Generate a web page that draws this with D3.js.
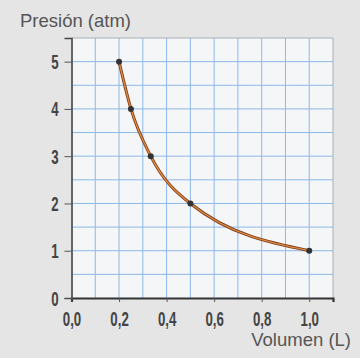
<!DOCTYPE html>
<html><head><meta charset="utf-8">
<script src="https://cdn.jsdelivr.net/npm/d3@7"></script>
<style>
html,body{margin:0;padding:0;background:#e4e4e4;}
svg{display:block;}
</style></head>
<body>
<svg id="c" width="360" height="358"></svg>
<script>
const volumes = [0.2, 0.25, 1/3, 0.5, 1.0];
const pressures = [5, 4, 3, 2, 1];
const xTicks = [0, 0.2, 0.4, 0.6, 0.8, 1.0];
const xTickLabels = ["0,0", "0,2", "0,4", "0,6", "0,8", "1,0"];
const yTicks = [0, 1, 2, 3, 4, 5];
const yTickLabels = ["0", "1", "2", "3", "4", "5"];
const xTitle = "Volumen (L)";
const yTitle = "Presión (atm)";

const svg = d3.select("#c");
const pL = 71.5, pR = 333, pT = 38, pB = 298;
const x = d3.scaleLinear().domain([0, 1.1]).range([pL, pR]);
const y = d3.scaleLinear().domain([0, 5.5]).range([pB, pT]);

svg.append("rect").attr("width", 360).attr("height", 358).attr("fill", "#e5e5e5");
svg.append("rect").attr("x", pL).attr("y", pT).attr("width", pR - pL).attr("height", pB - pT).attr("fill", "#f5f6f8");

const g = svg.append("g");
const xGrid = d3.range(1, 12).map(i => i * 0.1);
const yGrid = d3.range(1, 12).map(i => i * 0.5);
g.selectAll(".vx").data(xGrid).enter().append("line")
  .attr("x1", d => x(d)).attr("x2", d => x(d)).attr("y1", pT).attr("y2", pB)
  .attr("stroke", (d, i) => i === xGrid.length - 1 ? "#a9aeb6" : "#8db8e6").attr("stroke-width", 1);
g.selectAll(".hy").data(yGrid).enter().append("line")
  .attr("y1", d => y(d)).attr("y2", d => y(d)).attr("x1", pL).attr("x2", pR)
  .attr("stroke", (d, i) => i === yGrid.length - 1 ? "#a9aeb6" : "#8db8e6").attr("stroke-width", 1);

const tickFont = "'Liberation Sans',Arial,sans-serif";
const sx = 0.68;

const xAxis = d3.axisBottom(x).tickValues(xTicks).tickFormat((d, i) => xTickLabels[i]).tickSize(4).tickPadding(6);
const gx = svg.append("g").attr("transform", `translate(0,${pB})`).call(xAxis);
gx.select(".domain").attr("stroke", "#333").attr("stroke-width", 2.2);
gx.selectAll(".tick line").attr("stroke", "#555");
gx.selectAll("text").attr("font-family", tickFont).attr("font-size", 19.5).attr("font-weight", "bold")
  .attr("fill", "#444").attr("y", 28).attr("dy", null).attr("transform", `scale(${sx},1)`);

const yAxis = d3.axisLeft(y).tickValues(yTicks).tickFormat((d, i) => yTickLabels[i]).tickSize(7).tickPadding(4);
const gy = svg.append("g").attr("transform", `translate(${pL},0)`).call(yAxis);
gy.select(".domain").attr("stroke", "#444").attr("stroke-width", 1.6);
gy.selectAll(".tick line").attr("stroke", "#555");
gy.selectAll("text").attr("font-family", tickFont).attr("font-size", 19.5).attr("font-weight", "bold")
  .attr("fill", "#444").attr("x", -13 / sx).attr("dy", "0.36em").attr("transform", `scale(${sx},1)`);

const pts = volumes.map((v, i) => [v, pressures[i]]);
const line = d3.line().x(d => x(d[0])).y(d => y(d[1])).curve(d3.curveMonotoneX);
svg.append("path").datum(pts).attr("d", line).attr("fill", "none").attr("stroke", "#7a3b1e").attr("stroke-width", 3);
svg.append("path").datum(pts).attr("d", line).attr("fill", "none").attr("stroke", "#e08a3a").attr("stroke-width", 1.4);

svg.selectAll(".pt").data(pts).enter().append("circle")
  .attr("cx", d => x(d[0])).attr("cy", d => y(d[1])).attr("r", 3).attr("fill", "#333");

svg.append("text").attr("x", 20).attr("y", 27).text(yTitle)
  .attr("font-family", "'Liberation Sans',Arial,sans-serif").attr("font-size", 18.5).attr("fill", "#555");
svg.append("text").attr("x", 351).attr("y", 346).attr("text-anchor", "end").text(xTitle)
  .attr("font-family", "'Liberation Sans',Arial,sans-serif").attr("font-size", 18.5).attr("fill", "#555");
</script>
</body></html>
